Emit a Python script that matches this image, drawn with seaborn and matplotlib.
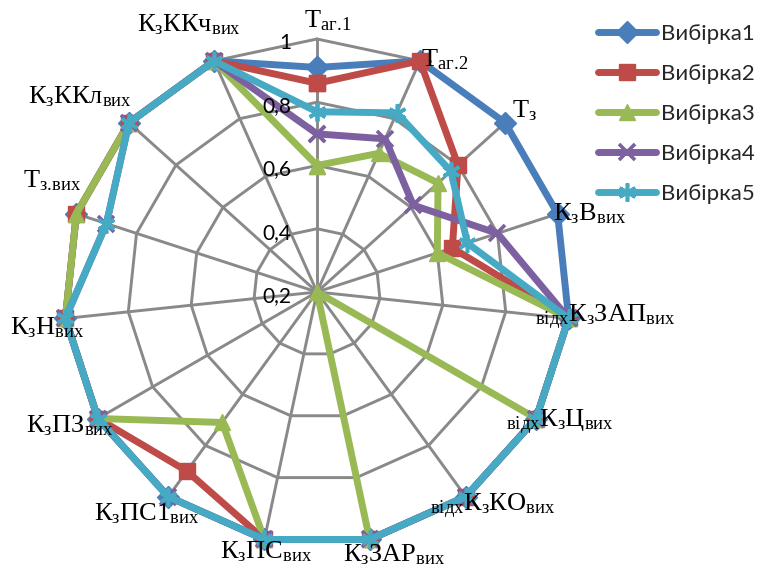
import numpy as np
import matplotlib
matplotlib.use("Agg")
import matplotlib.pyplot as plt
import seaborn as sns

# Axis categories (clockwise from the top)
categories = [
    r"$\mathrm{Т_{аг.\!1}}$",
    r"$\mathrm{Т_{аг.\!2}}$",
    r"$\mathrm{Т_{з}}$",
    r"$\mathrm{К_{з}В_{вих}}$",
    r"$\mathrm{{}_{відх}К_{з}ЗАП_{вих}}$",
    r"$\mathrm{{}_{відх}К_{з}Ц_{вих}}$",
    r"$\mathrm{{}_{відх}К_{з}КО_{вих}}$",
    r"$\mathrm{К_{з}ЗАР_{вих}}$",
    r"$\mathrm{К_{з}ПС_{вих}}$",
    r"$\mathrm{К_{з}ПС1_{вих}}$",
    r"$\mathrm{К_{з}ПЗ_{вих}}$",
    r"$\mathrm{К_{з}Н_{вих}}$",
    r"$\mathrm{Т_{з.\!вих}}$",
    r"$\mathrm{К_{з}ККл_{вих}}$",
    r"$\mathrm{К_{з}ККч_{вих}}$",
]

series_names = ["Вибірка1", "Вибірка2", "Вибірка3", "Вибірка4", "Вибірка5"]

vybirka1 = [0.91, 1.00, 1.00, 1.00, 1.00, 1.00, 1.00, 1.00, 1.00, 1.00, 1.00, 1.00, 1.00, 1.00, 1.00]
vybirka2 = [0.86, 1.00, 0.80, 0.65, 1.00, 1.00, 1.00, 1.00, 1.00, 0.90, 1.00, 1.00, 1.00, 1.00, 1.00]
vybirka3 = [0.60, 0.68, 0.715, 0.60, 1.00, 1.00, 0.20, 1.00, 1.00, 0.71, 1.00, 1.00, 1.00, 1.00, 1.00]
vybirka4 = [0.70, 0.73, 0.61, 0.80, 1.00, 1.00, 1.00, 1.00, 1.00, 1.00, 1.00, 1.00, 0.90, 1.00, 1.00]
vybirka5 = [0.77, 0.82, 0.77, 0.70, 1.00, 1.00, 1.00, 1.00, 1.00, 1.00, 1.00, 1.00, 0.90, 1.00, 1.00]
series_values = [vybirka1, vybirka2, vybirka3, vybirka4, vybirka5]

tick_values = [0.2, 0.4, 0.6, 0.8, 1.0]
tick_labels = ["0,2", "0,4", "0,6", "0,8", "1"]

colors = ["#4A7EBB", "#BE4B48", "#98B954", "#7D60A0", "#46AAC5"]
markers = ["D", "s", "^", "x", (6, 2, 0)]
marker_sizes = [11, 11, 12, 12, 13]

# label offsets (pixels) from the tip of each spoke
label_offsets = [(11, 18), (25, 1), (19, 12), (32, 0), (36, 1), (24, -4), (27, -10),
                 (25, -15), (2, -12), (-22, -17), (-28, -7), (-18, -9), (-24, 33),
                 (-49, 26), (-25, 36)]

sns.set_theme(style="white")
plt.rcParams["font.family"] = ["Lato", "DejaVu Sans"]
plt.rcParams["mathtext.fontset"] = "custom"
plt.rcParams["mathtext.rm"] = "Liberation Serif"
plt.rcParams["mathtext.it"] = "Liberation Serif:italic"
plt.rcParams["mathtext.bf"] = "Liberation Serif:bold"

fig = plt.figure(figsize=(7.68, 5.66), dpi=100)
fig.patch.set_facecolor("white")
ax = fig.add_axes([64 / 768, 21 / 566, 506 / 768, 506 / 566], projection="polar")
ax.set_theta_zero_location("N")
ax.set_theta_direction(-1)
ax.set_rlim(0.2, 1.0)
ax.grid(False)
ax.spines["polar"].set_visible(False)
ax.set_xticks([])
ax.set_yticks([])
ax.set_facecolor("white")

n = len(categories)
theta = np.linspace(0, 2 * np.pi, n, endpoint=False)
theta_closed = np.append(theta, 2 * np.pi)

grid_color = "#898989"
# polygonal web
for r in tick_values[1:]:
    ax.plot(theta_closed, [r] * (n + 1), color=grid_color, lw=2.1, zorder=1, clip_on=False)
for t in theta:
    ax.plot([t, t], [0.2, 1.0], color=grid_color, lw=2.1, zorder=1, clip_on=False)

# series
for i, (name, vals) in enumerate(zip(series_names, series_values)):
    r_closed = np.append(vals, vals[0])
    mk = markers[i]
    filled = mk not in ("x",) and not isinstance(mk, tuple)
    sns.lineplot(x=theta_closed, y=r_closed, ax=ax, sort=False, estimator=None,
                 color=colors[i], lw=5, marker=mk, markersize=marker_sizes[i],
                 markeredgewidth=1 if filled else 2.6,
                 markeredgecolor=colors[i], markerfacecolor=colors[i],
                 label=name, zorder=3 + i, clip_on=False)

if ax.get_legend() is not None:
    ax.get_legend().remove()
ax.set_xlabel("")
ax.set_ylabel("")
ax.set_rlim(0.2, 1.0)

# category labels
for t, lab, (dx, dy) in zip(theta, categories, label_offsets):
    ax.annotate(lab, xy=(t, 1.0), xytext=(dx, dy), textcoords="offset pixels",
                ha="center", va="center", fontsize=19, color="black",
                annotation_clip=False, zorder=10)

# radial value labels along the top spoke
for v, s in zip(tick_values, tick_labels):
    ax.annotate(s, xy=(0, v), xytext=(-26, -4), textcoords="offset pixels",
                ha="right", va="center", fontsize=15, color="black",
                annotation_clip=False, zorder=10)

handles = [l for l in ax.lines if not l.get_label().startswith("_")]
fig.legend(handles=handles, labels=[h.get_label() for h in handles],
           loc="upper left", bbox_to_anchor=(598 / 768, 1 - 24 / 566),
           frameon=False, fontsize=16, handlelength=2.6, handletextpad=0.25,
           labelspacing=0.9, borderpad=0, borderaxespad=0)

fig.savefig("out.png", dpi=100, facecolor="white")
